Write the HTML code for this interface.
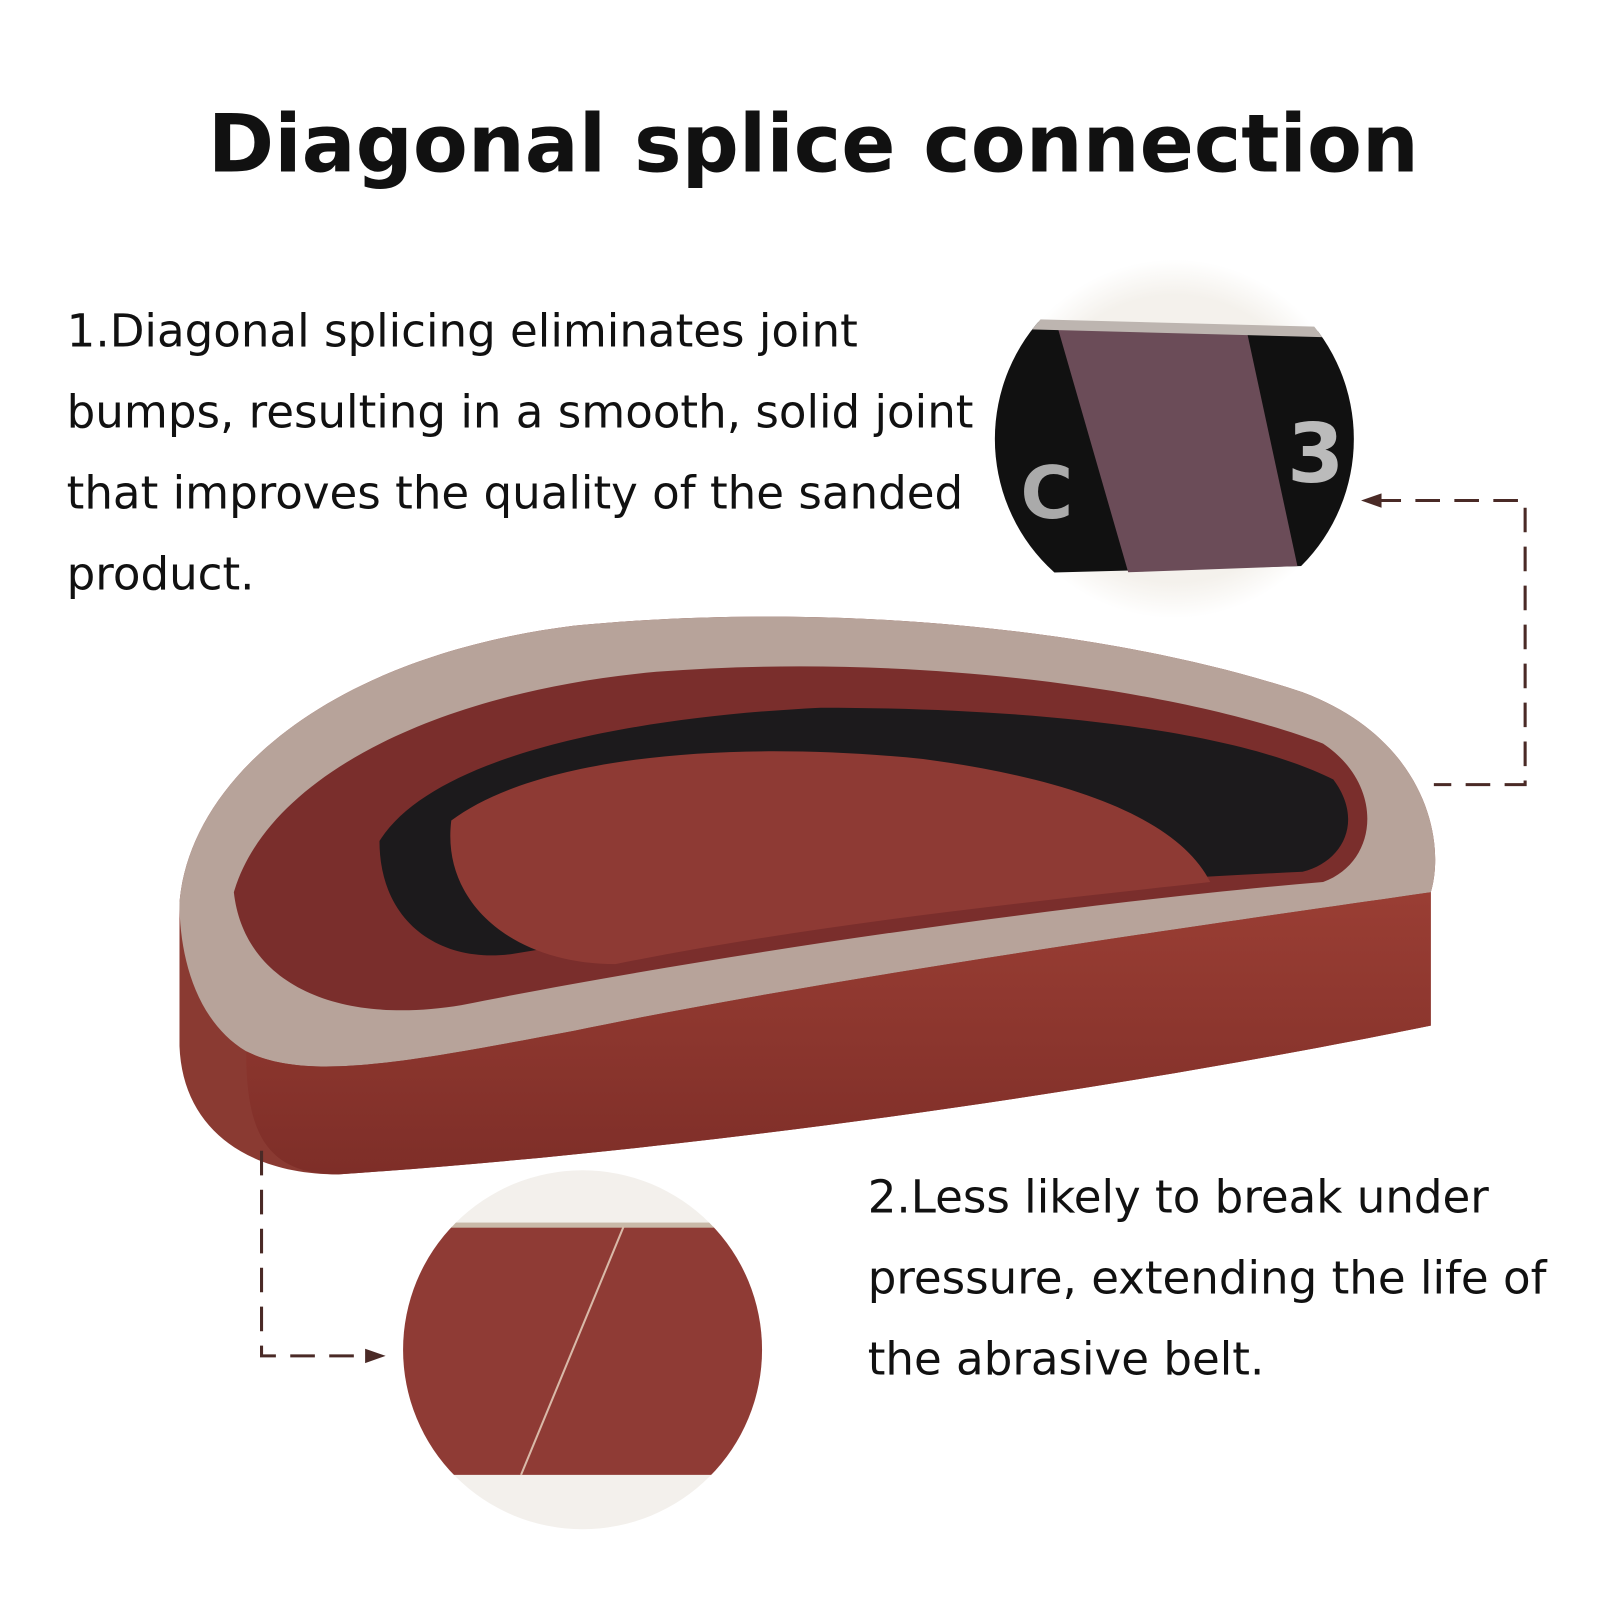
<!DOCTYPE html>
<html><head><meta charset="utf-8"><style>
html,body{margin:0;padding:0;background:#fff;width:1600px;height:1600px;overflow:hidden}
svg{display:block}
text{font-family:"DejaVu Sans","Liberation Sans",sans-serif;fill:#111}
</style></head><body>
<svg width="1600" height="1600" viewBox="0 0 1560 1560" xmlns="http://www.w3.org/2000/svg">
<defs>
<radialGradient id="g1" cx="0.5" cy="0.5" r="0.5"><stop offset="0.8" stop-color="#f4f1ec"/><stop offset="1" stop-color="#fff"/></radialGradient>
<linearGradient id="band" x1="0" y1="0" x2="0" y2="1"><stop offset="0" stop-color="#9a3e34"/><stop offset="1" stop-color="#7e2e28"/></linearGradient>
<clipPath id="c1"><circle cx="1145" cy="428" r="175"/></clipPath>
<clipPath id="c2"><circle cx="568" cy="1316" r="175"/></clipPath>
</defs>
<text x="793" y="167" text-anchor="middle" font-size="78" font-weight="bold">Diagonal splice connection</text>
<g font-size="44">
<text x="65" y="338">1.Diagonal splicing eliminates joint</text>
<text x="65" y="417">bumps, resulting in a smooth, solid joint</text>
<text x="65" y="496">that improves the quality of the sanded</text>
<text x="65" y="575">product.</text>
<text x="846" y="1182">2.Less likely to break under</text>
<text x="846" y="1261">pressure, extending the life of</text>
<text x="846" y="1340">the abrasive belt.</text>
</g>
<!-- belt -->
<path d="M175,880 C185,760 320,640 560,610 C820,585 1090,615 1270,675 C1390,720 1410,820 1395,870 L1395,1000 C1100,1060 700,1120 330,1145 C240,1145 178,1100 175,1020 Z" fill="#8a3a32"/>
<path d="M175,880 C185,760 320,640 560,610 C820,585 1090,615 1270,675 C1390,720 1410,820 1395,870 C1150,905 800,955 560,1005 C400,1035 300,1055 240,1025 C190,995 175,930 175,880 Z" fill="#b7a39a"/>
<path d="M228,870 C260,760 420,675 640,655 C900,635 1160,675 1290,725 C1350,765 1345,840 1290,860 C1050,880 700,930 450,980 C330,1000 238,960 228,870 Z" fill="#7a2e2c"/>
<path d="M370,820 C420,740 600,700 800,690 C1000,690 1200,710 1300,760 C1330,800 1310,840 1270,850 C1050,860 800,880 500,930 C430,940 370,900 370,820 Z" fill="#1c1a1c"/>
<path d="M440,800 C520,740 700,720 900,740 C1050,760 1150,800 1180,860 C1000,880 800,900 600,940 C500,940 430,880 440,800 Z" fill="#8e3a34"/>
<path d="M240,1025 C300,1055 400,1035 560,1005 C800,955 1150,905 1395,870 L1395,1000 C1100,1060 700,1120 330,1145 C260,1145 240,1105 240,1025 Z" fill="url(#band)"/>
<!-- top circle -->
<circle cx="1145" cy="428" r="175" fill="url(#g1)"/>
<g clip-path="url(#c1)">
<path d="M960,312 L1340,325 L1340,550 L960,560 Z" fill="#111"/>
<path d="M1030,315 L1215,320 L1265,552 L1100,558 Z" fill="#6b4c58"/>
<path d="M960,310 L1340,320 L1340,330 L960,320 Z" fill="#bdb5b0"/>
<text x="995" y="505" font-size="70" font-weight="bold" style="fill:#aaa">C</text>
<text x="1255" y="470" font-size="80" font-weight="bold" style="fill:#bbb">3</text>
</g>
<!-- bottom circle -->
<circle cx="568" cy="1316" r="175" fill="#f3f0ec"/>
<g clip-path="url(#c2)">
<rect x="390" y="1196" width="370" height="242" fill="#8f3b35"/>
<rect x="390" y="1192" width="370" height="5" fill="#c9b9a8"/>
<line x1="608" y1="1196" x2="508" y2="1438" stroke="#d9b9a8" stroke-width="2"/>
</g>
<!-- connectors -->
<g stroke="#4a2a26" stroke-width="3" fill="none" stroke-dasharray="24,14">
<path d="M1342,488 L1487,488 L1487,765 L1398,765"/>
<path d="M255,1122 L255,1322 L358,1322"/>
</g>
<polygon points="1327,488 1347,481 1347,495" fill="#4a2a26"/>
<polygon points="376,1322 356,1315 356,1329" fill="#4a2a26"/>
</svg>
</body></html>
